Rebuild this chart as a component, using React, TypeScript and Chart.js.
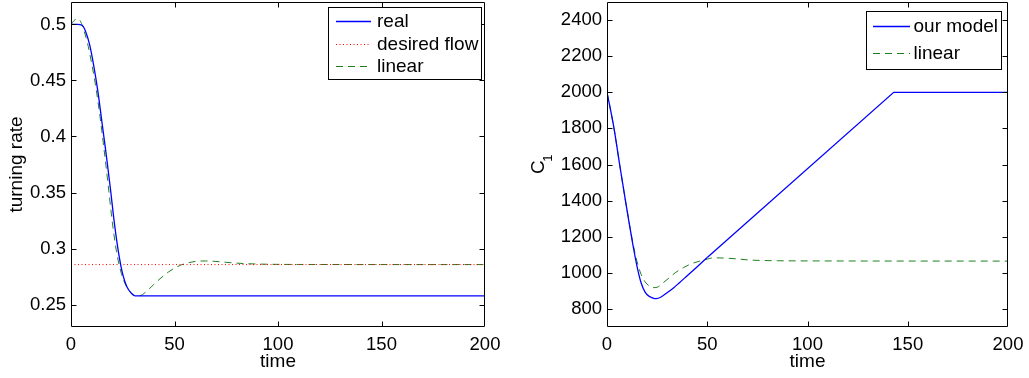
import React, { useEffect, useRef } from "react";
import { Chart, registerables } from "chart.js";

Chart.register(...registerables);

// ---------- data ----------
const X_TICKS = [0, 50, 100, 150, 200];

// left panel: turning rate
const L_REAL_T = [0, 3, 5.5, 7, 9, 11, 13, 15, 17, 19, 21, 23, 25, 27, 29, 31, 200];
const L_REAL_Y = [0.5, 0.5, 0.499, 0.494, 0.482, 0.463, 0.44, 0.412, 0.384, 0.354, 0.322, 0.296, 0.277, 0.266, 0.2605, 0.2578, 0.2578];

const L_DESIRED_T = [0, 200];
const L_DESIRED_Y = [0.2857, 0.2857];

const L_LIN_T = [0, 1.5, 3, 4.5, 6, 8, 10, 12, 14, 16, 18, 20, 22, 24, 26, 28, 30, 33, 36, 40, 43, 47, 51, 55, 60, 65, 70, 75, 80, 85, 95, 110, 200];
const L_LIN_Y = [0.5, 0.5035, 0.505, 0.503, 0.496, 0.483, 0.465, 0.444, 0.418, 0.388, 0.356, 0.323, 0.297, 0.28, 0.269, 0.2625, 0.259, 0.2578, 0.261, 0.268, 0.273, 0.279, 0.2835, 0.2865, 0.2885, 0.2889, 0.2885, 0.2877, 0.287, 0.2865, 0.286, 0.2858, 0.2857];

const L_Y_TICKS = [0.25, 0.3, 0.35, 0.4, 0.45, 0.5];

// right panel: C1
const R_MODEL_T = [0, 3.5, 6.3, 9.2, 11, 13, 15, 17, 19, 21, 23, 24.5, 27, 30, 33, 36, 40, 45, 50, 143, 200];
const R_MODEL_Y = [2000, 1800, 1600, 1400, 1280, 1150, 1035, 945, 893, 870, 860, 857, 866, 890, 915, 944, 984, 1034, 1085, 2000, 2000];
const R_MODEL_SPLIT = 18; // index where the straight segment starts

const R_LIN_T = [0, 3.5, 6.3, 9.2, 11, 13, 15, 17, 19, 21, 23, 25, 28, 31, 34, 38, 42, 46, 50, 53, 58, 65, 71, 85, 100, 200];
const R_LIN_Y = [2000, 1800, 1600, 1400, 1282, 1160, 1062, 992, 950, 928, 918, 920, 945, 972, 1000, 1028, 1050, 1064, 1076, 1083, 1082, 1077, 1071, 1067, 1066, 1065];

const R_Y_TICKS = [800, 1000, 1200, 1400, 1600, 1800, 2000, 2200, 2400];

// ---------- helpers ----------
const FONT_FAMILY = '"Liberation Sans", Arial, Helvetica, sans-serif';
const TICK_FONT = { family: FONT_FAMILY, size: 18.5 };
const TITLE_FONT = { family: FONT_FAMILY, size: 19 };

function pts(t: number[], y: number[]) {
  return t.map((x, i) => ({ x, y: y[i] }));
}

const framePlugin = {
  id: "frameTicks",
  afterDatasetsDraw(chart: any) {
    const { ctx, chartArea: a } = chart;
    const xs = chart.scales.x;
    const ys = chart.scales.y;
    const L = 5;
    const l = Math.round(a.left) + 0.5;
    const r = Math.round(a.right) - 0.5;
    const t = Math.round(a.top) + 0.5;
    const b = Math.round(a.bottom) - 0.5;
    ctx.save();
    ctx.setLineDash([]);
    ctx.strokeStyle = "#000";
    ctx.lineWidth = 1;
    ctx.beginPath();
    ctx.rect(l, t, r - l, b - t);
    for (const tk of xs.ticks) {
      const p = Math.round(xs.getPixelForValue(tk.value)) + 0.5;
      if (p <= l + 1 || p >= r - 1) continue;
      ctx.moveTo(p, b);
      ctx.lineTo(p, b - L);
      ctx.moveTo(p, t);
      ctx.lineTo(p, t + L);
    }
    for (const tk of ys.ticks) {
      const p = Math.round(ys.getPixelForValue(tk.value)) + 0.5;
      if (p <= t + 1 || p >= b - 1) continue;
      ctx.moveTo(l, p);
      ctx.lineTo(l + L, p);
      ctx.moveTo(r, p);
      ctx.lineTo(r - L, p);
    }
    ctx.stroke();
    ctx.restore();
  },
};

const legendPlugin = {
  id: "boxLegend",
  afterDraw(chart: any, _args: any, opts: any) {
    const { ctx } = chart;
    const { x1, y1, x2, y2, sx1, sx2, tx, rows } = opts;
    const items = chart.data.datasets.filter((d: any) => d.label);
    ctx.save();
    ctx.fillStyle = "#fff";
    ctx.fillRect(x1, y1, x2 - x1, y2 - y1);
    ctx.setLineDash([]);
    ctx.strokeStyle = "#000";
    ctx.lineWidth = 1;
    ctx.strokeRect(Math.round(x1) + 0.5, Math.round(y1) + 0.5, Math.round(x2 - x1), Math.round(y2 - y1));
    ctx.font = `19px ${FONT_FAMILY}`;
    ctx.textBaseline = "middle";
    ctx.textAlign = "left";
    items.forEach((d: any, i: number) => {
      const y = Math.round(rows[i]) + 0.5;
      ctx.beginPath();
      ctx.strokeStyle = d.borderColor;
      ctx.lineWidth = d.borderWidth;
      ctx.setLineDash(d.borderDash || []);
      ctx.moveTo(sx1, y);
      ctx.lineTo(sx2, y);
      ctx.stroke();
      ctx.fillStyle = "#000";
      ctx.fillText(d.label, tx, rows[i] + 1);
    });
    ctx.restore();
  },
};

// rotated axis title with a true subscript (e.g. C with subscript 1)
const subTitlePlugin = {
  id: "subTitle",
  afterDraw(chart: any, _args: any, opts: any) {
    if (!opts || !opts.main) return;
    const { ctx } = chart;
    ctx.save();
    ctx.translate(opts.x, opts.y);
    ctx.rotate(-Math.PI / 2);
    ctx.fillStyle = "#000";
    ctx.textAlign = "left";
    ctx.textBaseline = "alphabetic";
    ctx.font = `${opts.size}px ${FONT_FAMILY}`;
    ctx.fillText(opts.main, 0, 0);
    const w = ctx.measureText(opts.main).width;
    ctx.font = `${opts.subSize}px ${FONT_FAMILY}`;
    ctx.fillText(opts.sub, w + opts.subGap, opts.subShift);
    ctx.restore();
  },
};

function makeScales(yMin: number, yMax: number, yTicks: number[], yWidth: number, yTitle: string, yTitlePad: number, fmt: (v: number) => string) {
  return {
    x: {
      type: "linear",
      min: 0,
      max: 200,
      afterBuildTicks: (s: any) => {
        s.ticks = X_TICKS.map((v) => ({ value: v }));
      },
      afterFit: (s: any) => {
        s.height = 51;
        s.paddingLeft = 0;
        s.paddingRight = 0;
      },
      grid: { display: false, drawTicks: false },
      border: { display: false },
      ticks: { color: "#000", font: TICK_FONT, padding: 7, maxRotation: 0, autoSkip: false },
      title: { display: true, text: "time", color: "#000", font: TITLE_FONT, padding: { top: 0, bottom: 5 } },
    },
    y: {
      type: "linear",
      min: yMin,
      max: yMax,
      afterBuildTicks: (s: any) => {
        s.ticks = yTicks.map((v) => ({ value: v }));
      },
      afterFit: (s: any) => {
        s.width = yWidth;
        s.paddingTop = 0;
        s.paddingBottom = 0;
      },
      grid: { display: false, drawTicks: false },
      border: { display: false },
      ticks: { color: "#000", font: TICK_FONT, padding: 5, autoSkip: false, callback: (v: any) => fmt(Number(v)) },
      title: { display: yTitle !== "", text: yTitle, color: "#000", font: TITLE_FONT, padding: { top: yTitlePad, bottom: 0 } },
    },
  };
}

function useChart(ref: React.RefObject<HTMLCanvasElement>, build: () => any) {
  useEffect(() => {
    if (!ref.current) return;
    const chart = new Chart(ref.current, build());
    return () => chart.destroy();
  }, []);
}

export default function App() {
  const leftRef = useRef<HTMLCanvasElement>(null);
  const rightRef = useRef<HTMLCanvasElement>(null);

  useChart(leftRef as any, () => ({
    type: "line",
    data: {
      datasets: [
        {
          label: "real",
          data: pts(L_REAL_T, L_REAL_Y),
          borderColor: "#0000ff",
          borderWidth: 1.3,
          pointRadius: 0,
          cubicInterpolationMode: "monotone",
        },
        {
          label: "desired flow",
          data: pts(L_DESIRED_T, L_DESIRED_Y),
          borderColor: "#ff0000",
          borderWidth: 1,
          borderDash: [1, 2.5],
          pointRadius: 0,
        },
        {
          label: "linear",
          data: pts(L_LIN_T, L_LIN_Y),
          borderColor: "#1f801f",
          borderWidth: 1,
          borderDash: [7, 5],
          pointRadius: 0,
          cubicInterpolationMode: "monotone",
        },
      ],
    },
    options: {
      responsive: false,
      animation: false,
      layout: { padding: { left: 0, right: 30, top: 2, bottom: 0 } },
      plugins: {
        legend: { display: false },
        tooltip: { enabled: false },
        boxLegend: { x1: 328, y1: 7, x2: 481, y2: 79, sx1: 336, sx2: 371, tx: 377, rows: [21, 43.5, 66] },
        subTitle: {},
      },
      scales: makeScales(0.23, 0.52, L_Y_TICKS, 71, "turning rate", 5, (v) => String(Number(v.toFixed(2)))),
    },
    plugins: [framePlugin, legendPlugin, subTitlePlugin],
  }));

  useChart(rightRef as any, () => ({
    type: "line",
    data: {
      datasets: [
        {
          label: "our model",
          data: pts(R_MODEL_T.slice(0, R_MODEL_SPLIT + 1), R_MODEL_Y.slice(0, R_MODEL_SPLIT + 1)),
          borderColor: "#0000ff",
          borderWidth: 1.3,
          pointRadius: 0,
          cubicInterpolationMode: "monotone",
        },
        {
          label: "",
          data: pts(R_MODEL_T.slice(R_MODEL_SPLIT), R_MODEL_Y.slice(R_MODEL_SPLIT)),
          borderColor: "#0000ff",
          borderWidth: 1.3,
          pointRadius: 0,
          tension: 0,
        },
        {
          label: "linear",
          data: pts(R_LIN_T, R_LIN_Y),
          borderColor: "#1f801f",
          borderWidth: 1,
          borderDash: [7, 5],
          pointRadius: 0,
          cubicInterpolationMode: "monotone",
        },
      ],
    },
    options: {
      responsive: false,
      animation: false,
      layout: { padding: { left: 0, right: 21, top: 2, bottom: 0 } },
      plugins: {
        legend: { display: false },
        tooltip: { enabled: false },
        boxLegend: { x1: 351, y1: 11, x2: 486, y2: 69, sx1: 358, sx2: 395, tx: 398.5, rows: [26, 52.5] },
        subTitle: { main: "C", sub: "1", x: 28.5, y: 174, size: 19, subSize: 13, subGap: -1.5, subShift: 8 },
      },
      scales: makeScales(700, 2500, R_Y_TICKS, 92, "", 10, (v) => String(Math.round(v))),
    },
    plugins: [framePlugin, legendPlugin, subTitlePlugin],
  }));

  return (
    <div style={{ position: "absolute", left: 0, top: 0, width: 1029, height: 378, background: "#fff" }}>
      <div style={{ position: "absolute", left: 0, top: 0, width: 515, height: 378 }}>
        <canvas ref={leftRef} width={515} height={378} style={{ display: "block" }} />
      </div>
      <div style={{ position: "absolute", left: 515, top: 0, width: 514, height: 378 }}>
        <canvas ref={rightRef} width={514} height={378} style={{ display: "block" }} />
      </div>
    </div>
  );
}
